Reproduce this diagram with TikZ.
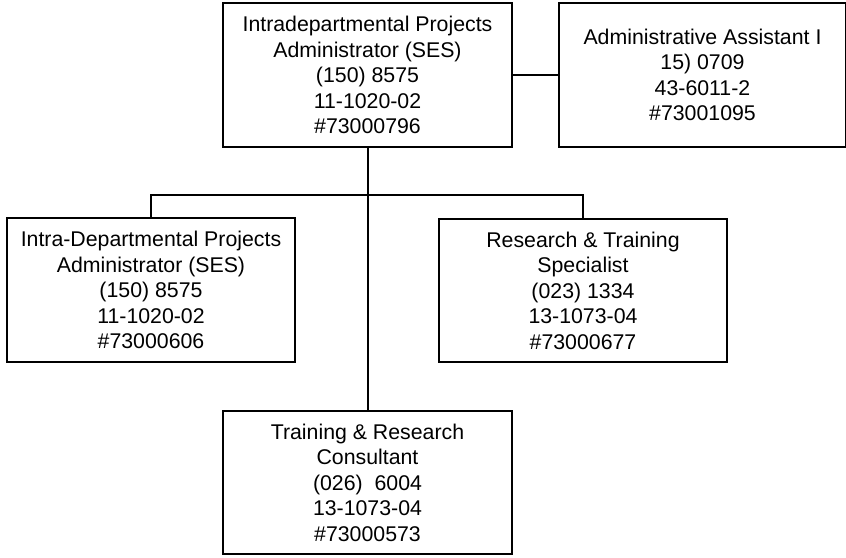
\documentclass[tikz,border=0pt]{standalone}
\usepackage{fontspec}
\setmainfont{Liberation Sans}
\begin{document}
\begin{tikzpicture}[x=1pt,y=-1pt,
  posbox/.style={draw=black,line width=1.5pt,fill=white,align=center,
    inner sep=0pt,font=\fontsize{21.3}{25.5}\selectfont},
  link/.style={draw=black,line width=1.3pt},
  trunk/.style={draw=black,line width=2pt}]
\useasboundingbox (0,0) rectangle (846,557);
% positions
\node[posbox,minimum width=289pt,minimum height=144pt] (head) at (367.5,75)
  {Intradepartmental Projects\\Administrator (SES)\\(150) 8575\\11-1020-02\\\#73000796};
\node[posbox,minimum width=287pt,minimum height=144pt] (assist) at (702.5,75)
  {Administrative Assistant I\\15) 0709\\43-6011-2\\\#73001095};
\node[posbox,minimum width=288pt,minimum height=144pt] (intra) at (151,290)
  {Intra-Departmental Projects\\Administrator (SES)\\(150) 8575\\11-1020-02\\\#73000606};
\node[posbox,minimum width=288pt,minimum height=143pt] (spec) at (583,290.5)
  {Research \& Training\\Specialist\\(023) 1334\\13-1073-04\\\#73000677};
\node[posbox,minimum width=289pt,minimum height=143pt] (cons) at (367.5,482.5)
  {Training \& Research\\Consultant\\(026)\ \ 6004\\13-1073-04\\\#73000573};
% connectors
\coordinate (split) at (367.5,195);
\draw[link] (head.east) -- (assist.west);
\draw[link] (intra.north) |- (split) -| (spec.north);
\draw[trunk] (head.south) -- (cons.north);
\end{tikzpicture}
\end{document}
